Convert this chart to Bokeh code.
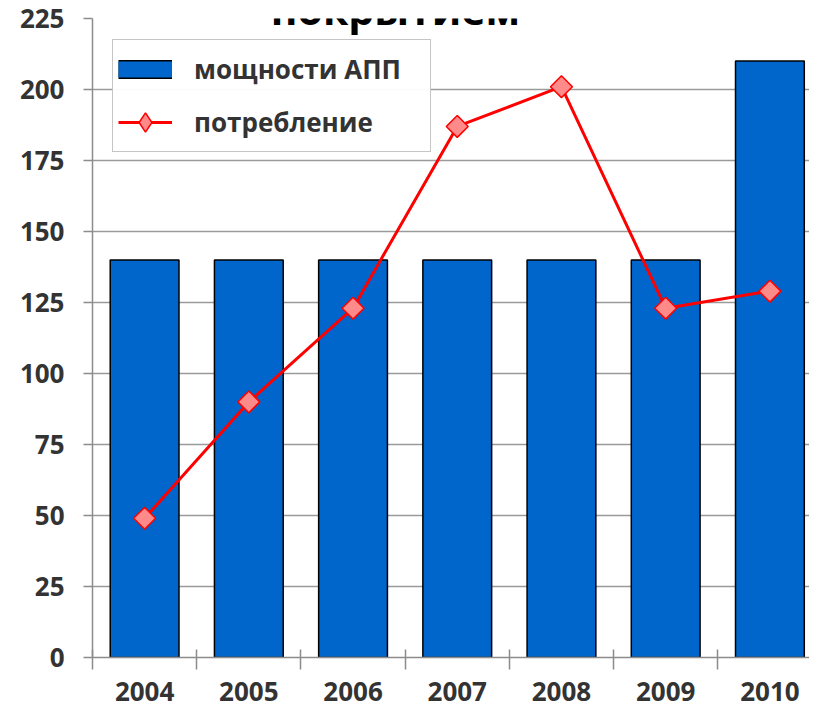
from bokeh.plotting import figure
from bokeh.models import Range1d, FixedTicker, Legend, LegendItem, ColumnDataSource, Label
from bokeh.embed import file_html
from bokeh.resources import INLINE
import math

years = ["2004", "2005", "2006", "2007", "2008", "2009", "2010"]
capacity = [140, 140, 140, 140, 140, 140, 210]
consumption = [49, 90, 123, 187, 201, 123, 129]
y_ticks = [0, 25, 50, 75, 100, 125, 150, 175, 200, 225]
title_text = "покрытием"
legend_labels = ["мощности АПП", "потребление"]

xs = list(range(len(years)))
src = ColumnDataSource(dict(x=xs, cap=capacity, cons=consumption))
# legend-only swatch source: a single point placed outside the visible ranges
offscreen = ColumnDataSource(dict(x=[-10], y=[-10]))

FONT = "Open Sans"
TXT = "#333333"
GRAY = "#8c8c8c"
BLUE = "#0066cc"
RED = "#ff0000"
PINK = "#ff8a8a"

BORDER_TOP = 18
BORDER_BOTTOM = 54
H = 711

p = figure(width=809, height=H, output_backend="svg", toolbar_location=None,
           x_range=Range1d(-0.5, 6.38), y_range=Range1d(0, 225),
           min_border_left=92, min_border_right=0, min_border_top=BORDER_TOP,
           min_border_bottom=BORDER_BOTTOM)
p.outline_line_color = None
p.background_fill_color = "white"

bars = p.vbar(x="x", top="cap", width=0.66, source=src, fill_color=BLUE,
              line_color="black", line_width=1.5)
line = p.line(x="x", y="cons", source=src, line_color=RED, line_width=3)
marks = p.scatter(x="x", y="cons", source=src, marker="square", size=15.5, angle=math.pi / 4,
                  fill_color=PINK, line_color=RED, line_width=1.5)

sw_border = p.line(x="x", y="y", source=offscreen, line_color="black", line_width=19, line_cap="butt")
sw_fill = p.line(x="x", y="y", source=offscreen, line_color=BLUE, line_width=16, line_cap="butt")
lg_diamond = p.scatter(x="x", y="y", source=offscreen, marker="diamond",
                       fill_color=PINK, line_color=RED, line_width=1.5)

# axes
p.xaxis.ticker = FixedTicker(ticks=xs, minor_ticks=[i - 0.5 for i in range(len(years) + 1)])
p.xaxis.major_label_overrides = {i: y for i, y in enumerate(years)}
p.xaxis.major_tick_in = 0
p.xaxis.major_tick_out = 0
p.xaxis.minor_tick_in = 8
p.xaxis.minor_tick_out = 12
p.xaxis.minor_tick_line_color = GRAY
p.xaxis.minor_tick_line_width = 1.5
p.xaxis.major_label_standoff = 12

p.yaxis.ticker = FixedTicker(ticks=y_ticks)
p.yaxis.major_tick_in = 0
p.yaxis.major_tick_out = 9
p.yaxis.minor_tick_line_color = None
p.yaxis.major_label_standoff = 19

for ax in (p.xaxis, p.yaxis):
    ax.axis_line_color = GRAY
    ax.axis_line_width = 1.5
    ax.major_tick_line_color = GRAY
    ax.major_tick_line_width = 1.5
    ax.major_label_text_font = FONT
    ax.major_label_text_font_style = "bold"
    ax.major_label_text_font_size = "26px"
    ax.major_label_text_color = TXT

p.xgrid.grid_line_color = None
p.ygrid.ticker = FixedTicker(ticks=y_ticks)
p.ygrid.grid_line_color = "#9a9a9a"
p.ygrid.grid_line_width = 1.5

frame_h = H - BORDER_TOP - BORDER_BOTTOM
legend_h = 5 + 48 + 5 + 48 + 5
legend = Legend(items=[LegendItem(label=legend_labels[0], renderers=[sw_border, sw_fill]),
                       LegendItem(label=legend_labels[1], renderers=[line, lg_diamond])],
                location=(20, frame_h - 23 - legend_h), orientation="vertical",
                glyph_width=54, glyph_height=48, label_height=40, label_width=231,
                spacing=5, padding=5, margin=0, label_standoff=22,
                border_line_color=GRAY, border_line_width=1.5,
                label_text_font=FONT, label_text_font_style="bold",
                label_text_font_size="26px", label_text_color=TXT)
p.add_layout(legend, "center")

title = Label(x=303, y=frame_h + 10, x_units="screen", y_units="screen", text=title_text,
              text_align="center", text_baseline="alphabetic",
              text_font=FONT, text_font_style="bold", text_font_size="41px", text_color="black")
p.add_layout(title)

open("out.html", "w").write(file_html(p, INLINE))
